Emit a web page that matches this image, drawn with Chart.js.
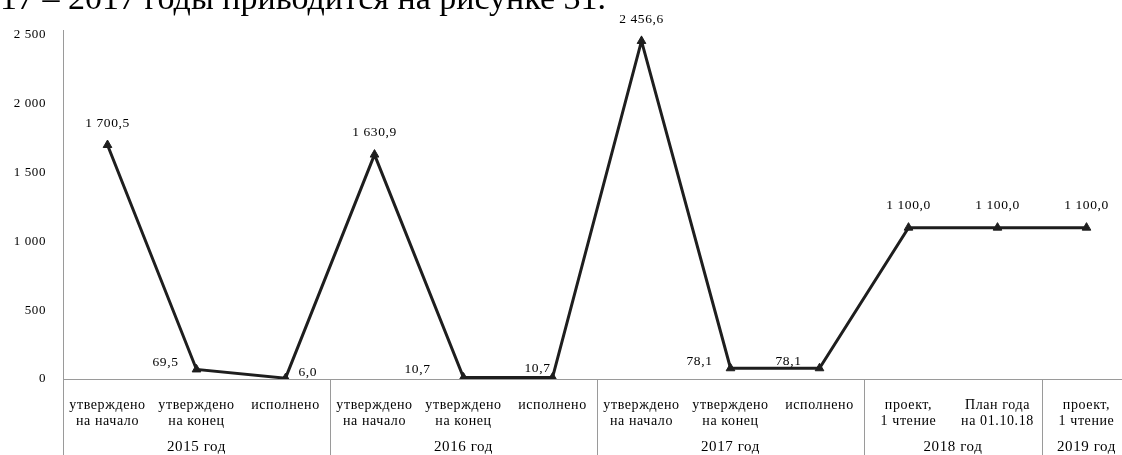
<!DOCTYPE html>
<html><head><meta charset="utf-8">
<script src="https://cdn.jsdelivr.net/npm/chart.js@4.4.1/dist/chart.umd.min.js"></script>
<style>
html,body{margin:0;padding:0;background:#fff;overflow:hidden;width:1122px;height:455px;position:relative;}
#wrap{position:absolute;left:0;top:0;width:1137px;height:455px;}
#head{position:absolute;left:0px;top:-19px;font-family:"Liberation Serif",serif;font-size:34px;line-height:34px;white-space:nowrap;color:#000;}
</style></head><body>
<div id="wrap"><canvas id="c" width="1137" height="455"></canvas></div>
<div id="head">17 – 2017 годы приводится на рисунке 31.</div>
<script>
// ---- data ----
const categories = [
  ["утверждено","на начало"], ["утверждено","на конец"], "исполнено",
  ["утверждено","на начало"], ["утверждено","на конец"], "исполнено",
  ["утверждено","на начало"], ["утверждено","на конец"], "исполнено",
  ["проект,","1 чтение"], ["План года","на 01.10.18"],
  ["проект,","1 чтение"]
];
const groupLabels = ["2015 год","2016 год","2017 год","2018 год","2019 год"];
const groupSizes = [3,3,3,2,1];
const values = [1700.5, 69.5, 6.0, 1630.9, 10.7, 10.7, 2456.6, 78.1, 78.1, 1100.0, 1100.0, 1100.0];
const yTicks = [0, 500, 1000, 1500, 2000, 2500];
const labelPlacement = ['top','left','right','top','leftFar','leftNear','top','left','left','top','top','top'];

function groupThousands(s){ return s.replace(/\B(?=(\d{3})+(?!\d))/g, ' '); }
function fmtVal(v){ const p = v.toFixed(1).split('.'); return groupThousands(p[0]) + ',' + p[1]; }
function fmtTick(v){ return groupThousands(String(v)); }

const SERIF = '"Liberation Serif", "Times New Roman", serif';

const spacingPlugin = {
  id: 'spacing',
  beforeInit(chart){ try { chart.ctx.letterSpacing = '0.6px'; } catch(e){} },
  beforeDraw(chart){ try { chart.ctx.letterSpacing = '0.6px'; } catch(e){} }
};

const groupPlugin = {
  id: 'groups',
  afterDraw(chart){
    const xs = chart.scales.x, ctx = chart.ctx;
    const step = xs.getPixelForValue(1) - xs.getPixelForValue(0);
    const edge = i => xs.getPixelForValue(i) - step/2;
    ctx.save();
    ctx.strokeStyle = '#9a9a9a';
    ctx.lineWidth = 1;
    let idx = 0;
    const bounds = [0];
    groupSizes.forEach(n => { idx += n; bounds.push(idx); });
    bounds.forEach((b, k) => {
      const x = Math.round(edge(b)) + 0.5;
      ctx.beginPath();
      ctx.moveTo(x, k === 0 ? chart.chartArea.top - 5 : xs.top);
      ctx.lineTo(x, 455);
      ctx.stroke();
    });
    ctx.fillStyle = '#000';
    ctx.font = '15px ' + SERIF;
    ctx.textAlign = 'center';
    ctx.textBaseline = 'middle';
    groupLabels.forEach((g, k) => {
      const cx = (edge(bounds[k]) + edge(bounds[k+1])) / 2;
      ctx.fillText(g, cx, 447);
    });
    ctx.restore();
  }
};

const labelPlugin = {
  id: 'vlabels',
  afterDatasetsDraw(chart){
    const ctx = chart.ctx;
    const meta = chart.getDatasetMeta(0);
    ctx.save();
    ctx.fillStyle = '#000';
    ctx.font = '13.5px ' + SERIF;
    ctx.textBaseline = 'middle';
    meta.data.forEach((pt, i) => {
      const t = fmtVal(values[i]);
      const p = labelPlacement[i];
      if (p === 'top') { ctx.textAlign = 'center'; ctx.fillText(t, pt.x, pt.y - 22); }
      else if (p === 'left') { ctx.textAlign = 'right'; ctx.fillText(t, pt.x - 18, pt.y - 7); }
      else if (p === 'leftFar') { ctx.textAlign = 'right'; ctx.fillText(t, pt.x - 33, pt.y - 8); }
      else if (p === 'leftNear') { ctx.textAlign = 'right'; ctx.fillText(t, pt.x - 2, pt.y - 9); }
      else { ctx.textAlign = 'left'; ctx.fillText(t, pt.x + 13, pt.y - 6); }
    });
    ctx.restore();
  }
};

new Chart(document.getElementById('c'), {
  type: 'line',
  data: {
    labels: categories,
    datasets: [{
      data: values,
      borderColor: '#1e1e1e',
      backgroundColor: '#1e1e1e',
      borderWidth: 3,
      pointStyle: 'triangle',
      pointRadius: 5,
      pointBorderWidth: 1,
      tension: 0,
      fill: false
    }]
  },
  options: {
    responsive: false,
    animation: false,
    devicePixelRatio: 1,
    layout: { padding: { top: 35, right: 0, left: 0, bottom: 0 } },
    plugins: { legend: { display: false }, tooltip: { enabled: false } },
    scales: {
      y: {
        min: yTicks[0], max: yTicks[yTicks.length-1],
        afterBuildTicks(scale){ scale.ticks = yTicks.map(v => ({ value: v })); },
        afterFit(scale){ scale.width = 63; },
        ticks: { callback: v => fmtTick(v), font: { family: SERIF, size: 13 }, color: '#000', padding: 9 },
        grid: { display: false },
        border: { display: true, color: '#9a9a9a', width: 1 }
      },
      x: {
        offset: true,
        afterFit(scale){ scale.height = 76; },
        ticks: { font: { family: SERIF, size: 14, lineHeight: 1.1 }, color: '#000', padding: 11, maxRotation: 0, minRotation: 0, autoSkip: false },
        grid: { display: false },
        border: { display: true, color: '#9a9a9a', width: 1 }
      }
    }
  },
  plugins: [spacingPlugin, groupPlugin, labelPlugin]
});
</script>
</body></html>
